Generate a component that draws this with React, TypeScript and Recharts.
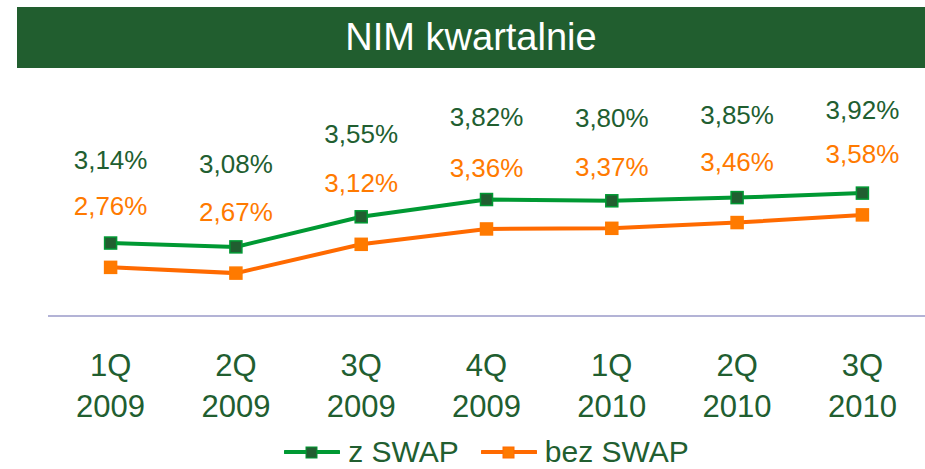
import { LineChart, Line, XAxis, YAxis, Legend, LabelList } from 'recharts';

const QUARTERS = ['1Q', '2Q', '3Q', '4Q', '1Q', '2Q', '3Q'];
const YEARS = ['2009', '2009', '2009', '2009', '2010', '2010', '2010'];
const Z_SWAP = [3.14, 3.08, 3.55, 3.82, 3.80, 3.85, 3.92];
const BEZ_SWAP = [2.76, 2.67, 3.12, 3.36, 3.37, 3.46, 3.58];

const DATA = QUARTERS.map((q, i) => ({ cat: `${q} ${YEARS[i]}`, z: Z_SWAP[i], bez: BEZ_SWAP[i] }));

const DARK = '#215e30';
const GREEN = '#009933';
const ORANGE = '#ff6a00';
const FONT = 'Liberation Sans, Arial, sans-serif';

const fmt = (v: number) => v.toFixed(2).replace('.', ',') + '%';

const Sq = (fill: string, stroke: string) => (p: any) => {
  if (p.cx == null || p.cy == null) return null;
  return <rect key={p.index} x={p.cx - 6} y={p.cy - 6} width={12} height={12} fill={fill} stroke={stroke} strokeWidth={1.5} />;
};

const Tick = (p: any) => {
  const [q, y] = String(p.payload.value).split(' ');
  return (
    <text x={p.x} textAnchor="middle" fill={DARK} fontSize={31} fontFamily={FONT}>
      <tspan x={p.x} y={p.y + 60}>{q}</tspan>
      <tspan x={p.x} y={p.y + 101}>{y}</tspan>
    </text>
  );
};

const lbl = (color: string, off: number) => (p: any) => (
  <text x={p.x} y={p.y - off} textAnchor="middle" fill={color} fontSize={26} fontFamily={FONT}>{fmt(Number(p.value))}</text>
);

const LegendBox = () => {
  const items = [
    { name: 'z SWAP', line: GREEN, fill: DARK },
    { name: 'bez SWAP', line: ORANGE, fill: '#ff7a00' },
  ];
  return (
    <div style={{ display: 'flex', justifyContent: 'center', alignItems: 'flex-start', gap: 22, height: 43, fontFamily: FONT, paddingTop: 10, boxSizing: 'border-box' }}>
      {items.map(it => (
        <div key={it.name} style={{ display: 'flex', alignItems: 'center', gap: 8, height: 31 }}>
          <svg width={56} height={14}>
            <line x1={1} y1={7} x2={55} y2={7} stroke={it.line} strokeWidth={4} strokeLinecap="round" />
            <rect x={22} y={2} width={11} height={11} fill={it.fill} stroke={it.line} strokeWidth={1} />
          </svg>
          <span style={{ fontSize: 30, color: DARK, lineHeight: '31px' }}>{it.name}</span>
        </div>
      ))}
    </div>
  );
};

export default function App() {
  return (
    <div style={{ position: 'absolute', left: 0, top: 0, width: 925, height: 469, background: '#fff', fontFamily: FONT }}>
      <div style={{ position: 'absolute', left: 17, top: 7, width: 908, height: 61, background: '#215e2f', color: '#fff', fontSize: 38, display: 'flex', alignItems: 'center', justifyContent: 'center' }}>
        NIM kwartalnie
      </div>
      <LineChart width={925} height={469} data={DATA} margin={{ top: 124, right: 0, left: 48, bottom: 0 }}>
        <XAxis dataKey="cat" interval={0} tickLine={false} tickSize={0} tickMargin={0} height={110}
          axisLine={{ stroke: '#9a9ac8', strokeWidth: 1.5 }} padding={{ left: 62.6, right: 62.6 }} tick={<Tick />} />
        <YAxis hide domain={[2, 5]} />
        <Legend verticalAlign="bottom" height={43} content={<LegendBox />} />
        <Line dataKey="z" name="z SWAP" stroke={GREEN} strokeWidth={4} dot={Sq(DARK, GREEN)} activeDot={false} isAnimationActive={false}>
          <LabelList dataKey="z" content={lbl(DARK, 74)} />
        </Line>
        <Line dataKey="bez" name="bez SWAP" stroke={ORANGE} strokeWidth={4} dot={Sq('#ff7a00', '#ff7a00')} activeDot={false} isAnimationActive={false}>
          <LabelList dataKey="bez" content={lbl('#ff7a00', 52)} />
        </Line>
      </LineChart>
    </div>
  );
}
